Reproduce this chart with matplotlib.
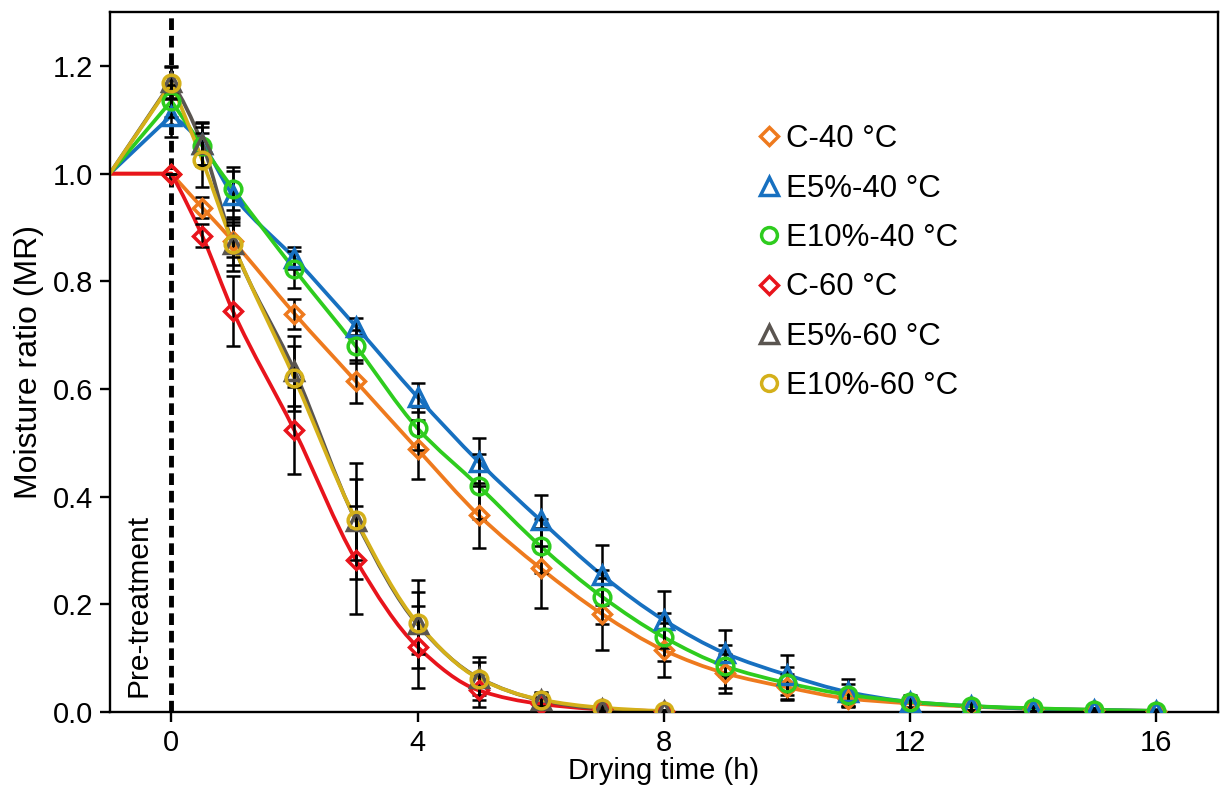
import numpy as np
import matplotlib
matplotlib.use("Agg")
import matplotlib.pyplot as plt
from matplotlib.path import Path
from matplotlib.patches import PathPatch
from matplotlib.lines import Line2D

plt.rcParams['font.family'] = ['Liberation Sans', 'DejaVu Sans']

# drying time (h); all curves start from MR = 1.0 at t = -1 (pre-treatment)
pre_t = -1.0
pre_mr = 1.0
t40 = [0, 0.5, 1, 2, 3, 4, 5, 6, 7, 8, 9, 10, 11, 12, 13, 14, 15, 16]
t60 = [0, 0.5, 1, 2, 3, 4, 5, 6, 7, 8]

c40 = [1.000, 0.937, 0.875, 0.740, 0.614, 0.488, 0.365, 0.267, 0.182, 0.115,
       0.072, 0.046, 0.025, 0.016, 0.010, 0.006, 0.004, 0.002]
c40_err = [0.0, 0.02, 0.03, 0.028, 0.04, 0.055, 0.06, 0.074, 0.067, 0.05,
           0.036, 0.024, 0.015, 0.010, 0.006, 0.004, 0.003, 0.002]
e5_40 = [1.108, 1.055, 0.960, 0.843, 0.716, 0.585, 0.464, 0.356, 0.254, 0.171,
         0.109, 0.069, 0.037, 0.019, 0.011, 0.006, 0.004, 0.002]
e5_40_err = [0.04, 0.04, 0.045, 0.02, 0.015, 0.027, 0.045, 0.047, 0.056, 0.053,
             0.043, 0.037, 0.025, 0.012, 0.008, 0.005, 0.004, 0.003]
e10_40 = [1.135, 1.052, 0.972, 0.822, 0.679, 0.527, 0.419, 0.308, 0.214, 0.139,
          0.085, 0.054, 0.032, 0.019, 0.011, 0.007, 0.004, 0.002]
e10_40_err = [0.03, 0.035, 0.04, 0.035, 0.03, 0.04, 0.06, 0.05, 0.05, 0.045,
              0.04, 0.03, 0.02, 0.01, 0.007, 0.005, 0.003, 0.002]
c60 = [1.000, 0.885, 0.745, 0.523, 0.282, 0.121, 0.040, 0.015, 0.005, 0.002]
c60_err = [0.0, 0.022, 0.065, 0.08, 0.10, 0.076, 0.03, 0.012, 0.005, 0.002]
e5_60 = [1.170, 1.056, 0.870, 0.634, 0.355, 0.163, 0.063, 0.022, 0.006, 0.001]
e5_60_err = [0.03, 0.04, 0.05, 0.065, 0.108, 0.082, 0.04, 0.015, 0.006, 0.003]
e10_60 = [1.168, 1.026, 0.870, 0.620, 0.357, 0.165, 0.062, 0.023, 0.008, 0.002]
e10_60_err = [0.03, 0.05, 0.04, 0.06, 0.075, 0.057, 0.03, 0.012, 0.005, 0.002]

labels = ['C-40 °C', 'E5%-40 °C', 'E10%-40 °C', 'C-60 °C', 'E5%-60 °C', 'E10%-60 °C']
colors = ['#EE7A1E', '#1770C0', '#2ECC1E', '#E8141C', '#5A5550', '#D4B01A']
markers = ['D', '^', 'o', 'D', '^', 'o']
msizes = [9.5, 13.5, 12, 9.5, 13.5, 12]

series = [(t40, c40, c40_err), (t40, e5_40, e5_40_err), (t40, e10_40, e10_40_err),
          (t60, c60, c60_err), (t60, e5_60, e5_60_err), (t60, e10_60, e10_60_err)]


def pchip_slopes(x, y):
    h = np.diff(x)
    d = np.diff(y) / h
    m = np.zeros(len(y))
    for k in range(1, len(y) - 1):
        if d[k - 1] * d[k] > 0:
            w1 = 2 * h[k] + h[k - 1]
            w2 = h[k] + 2 * h[k - 1]
            m[k] = (w1 + w2) / (w1 / d[k - 1] + w2 / d[k])
    for i, (h0, h1, d0, d1) in [(0, (h[0], h[1], d[0], d[1])),
                                (-1, (h[-1], h[-2], d[-1], d[-2]))]:
        s = ((2 * h0 + h1) * d0 - h0 * d1) / (h0 + h1)
        if np.sign(s) != np.sign(d0):
            s = 0.0
        elif np.sign(d0) != np.sign(d1) and abs(s) > 3 * abs(d0):
            s = 3 * d0
        m[i] = s
    return m


def curve_path(x, y):
    # straight pre-treatment segment, then a smooth curve through the points
    x = np.asarray(x, float)
    y = np.asarray(y, float)
    m = pchip_slopes(x, y)
    verts = [(pre_t, pre_mr), (x[0], y[0])]
    codes = [Path.MOVETO, Path.LINETO]
    for i in range(len(x) - 1):
        h = x[i + 1] - x[i]
        verts += [(x[i] + h / 3, y[i] + m[i] * h / 3),
                  (x[i + 1] - h / 3, y[i + 1] - m[i + 1] * h / 3),
                  (x[i + 1], y[i + 1])]
        codes += [Path.CURVE4] * 3
    return Path(verts, codes)


fig = plt.figure(figsize=(12.2, 7.89), dpi=100)
ax = fig.add_axes([0.090, 0.0976, 0.908, 0.887])

ax.axvline(0, color='black', lw=3.5, ls=(0, (2.4, 1.2)), zorder=1)

for (t, mr, err), col in zip(series, colors):
    ax.add_patch(PathPatch(curve_path(t, mr), fill=False, edgecolor=col, lw=2.7,
                           capstyle='round', joinstyle='round', zorder=2))

for (t, mr, err) in series:
    ax.errorbar(t, mr, yerr=err, fmt='none', ecolor='black', elinewidth=1.8,
                capsize=5, capthick=1.8, zorder=3)

for (t, mr, err), col, mk, ms in zip(series, colors, markers, msizes):
    ax.plot(t, mr, ls='none', marker=mk, ms=ms, mfc='none', mec=col, mew=2.5,
            zorder=4)

ax.text(-0.53, 0.028, 'Pre-treatment', rotation=90, ha='center', va='bottom',
        fontsize=21.5)

ax.set_xlim(-1, 17)
ax.set_ylim(0, 1.3)
ax.set_xticks([0, 4, 8, 12, 16])
ax.set_yticks([0, 0.2, 0.4, 0.6, 0.8, 1.0, 1.2])
ax.set_yticklabels(['0.0', '0.2', '0.4', '0.6', '0.8', '1.0', '1.2'])
ax.tick_params(direction='out', length=7, width=1.7, labelsize=21, pad=5)
for sp in ax.spines.values():
    sp.set_linewidth(1.7)
ax.set_xlabel('Drying time (h)', fontsize=21, labelpad=0)
ax.set_ylabel('Moisture ratio (MR)', fontsize=23, labelpad=6)

handles = [Line2D([], [], ls='none', marker=mk, ms=ms * 0.95, mfc='none', mec=col,
                  mew=2.5) for col, mk, ms in zip(colors, markers, msizes)]
ax.legend(handles, labels, loc='upper left', bbox_to_anchor=(0.571, 0.862),
          frameon=False, fontsize=22.5, handlelength=0.7, handletextpad=0.2,
          labelspacing=0.62, borderpad=0)

fig.savefig('out.png', dpi=100)
